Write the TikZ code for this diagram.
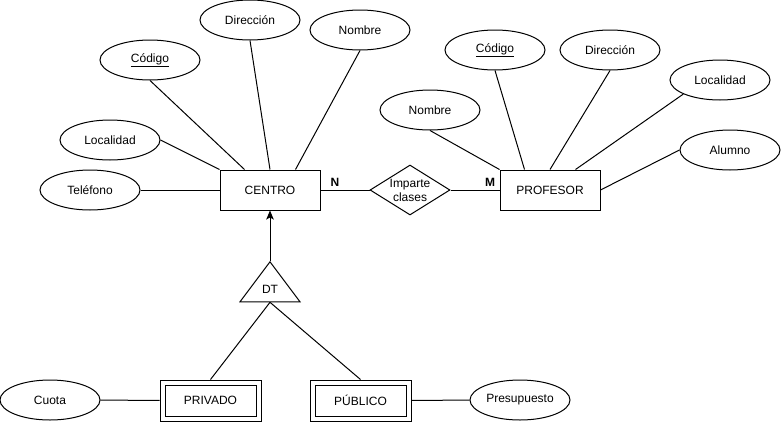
\documentclass[tikz,border=0pt]{standalone}
\usepackage{fontspec}
\setmainfont{Liberation Sans}
\usepackage{tikz}
\usetikzlibrary{shapes.geometric, arrows, arrows.meta, positioning}
\tikzstyle{entidad} = [rectangle, minimum width=100pt, minimum height=40pt, text centered, draw=black, inner sep=0pt]
\tikzstyle{debil} = [rectangle, minimum width=96pt, minimum height=36pt, text centered, draw=black, double, double distance=4pt, outer sep=3pt, inner sep=0pt]
\tikzstyle{atributo} = [ellipse, minimum width=100pt, minimum height=40pt, text centered, draw=black, inner sep=0pt]
\tikzstyle{relacion} = [diamond, minimum width=80pt, minimum height=50pt, draw=black, inner sep=0pt]
\tikzstyle{jerarquia} = [isosceles triangle, isosceles triangle stretches, shape border rotate=90, minimum width=60pt, minimum height=40pt, draw=black, inner sep=0pt]
\tikzstyle{card} = [font=\fontsize{12}{14}\selectfont\bfseries]
\tikzstyle{flecha} = [->,>={Stealth[length=9pt,width=7.5pt,inset=2pt]}]

\begin{document}
\begin{tikzpicture}[x=1pt, y=-1pt, line width=1pt, every node/.style={font=\fontsize{12}{14}\selectfont}]
	\useasboundingbox (0,0) rectangle (783,423);
	\node (centro) [entidad] at (270,190) {CENTRO};
	\node (imparte) [relacion, right of=centro, node distance=140pt, label={[align=center]center:Imparte\\clases}] {};
	\node (profesor) [entidad, right of=imparte, node distance=140pt] {PROFESOR};
	\node (n) [card] at (335,182) {N};
	\node (m) [card] at (490,182) {M};
	
	\node (telefono) [atributo] at (90,190) {Teléfono};
	\node (localidad1) [atributo] at (110,140) {Localidad};
	\node (codigo1) [atributo] at (150,60) {\underline{Código}};
	\node (direccion1) [atributo] at (250,20) {Dirección};
	\node (nombre1) [atributo] at (360,30) {Nombre};
	
	\node (nombre2) [atributo] at (430,110) {Nombre};
	\node (codigo2) [atributo] at (495,50) {\underline{Código}};
	\node (direccion2) [atributo] at (610,50) {Dirección};
	\node (localidad2) [atributo] at (720,80) {Localidad};
	\node (alumno) [atributo] at (730,150) {Alumno};
	
	\node (dt) [jerarquia, anchor=apex] at ([yshift=-50pt]centro.south) {DT};
	\node (privado) [debil] at (210.5,400.5) {PRIVADO};
	\node (publico) [debil] at (360.5,400.5) {PÚBLICO};
	\node (cuota) [atributo] at (50,400) {Cuota};
	\node (presupuesto) [atributo] at (520,400) {Presupuesto};
	
	\draw (telefono) -- (centro);
	\draw (localidad1.east) -- (centro.north west);
	\draw (codigo1.south) -- ([xshift=25pt]centro.north west);
	\draw (direccion1.south) -- (centro.north);
	\draw (nombre1.south) -- ([xshift=-25pt]centro.north east);
	\draw (centro) -- (imparte);
	\draw (imparte) -- (profesor);
	\draw (nombre2.south) -- (profesor.north west);
	\draw (codigo2.south) -- ([xshift=25pt]profesor.north west);
	\draw (direccion2.south) -- (profesor.north);
	\draw (localidad2.201) -- ([xshift=-25pt]profesor.north east);
	\draw (alumno.west) -- (profesor.east);
	\draw [flecha](dt.apex) -- (centro.south);
	\draw (dt.south) -- (privado.north);
	\draw (dt.south) -- (publico.north);
	\draw (cuota) -- (privado);
	\draw (publico) -- (presupuesto);
\end{tikzpicture}
\end{document}
